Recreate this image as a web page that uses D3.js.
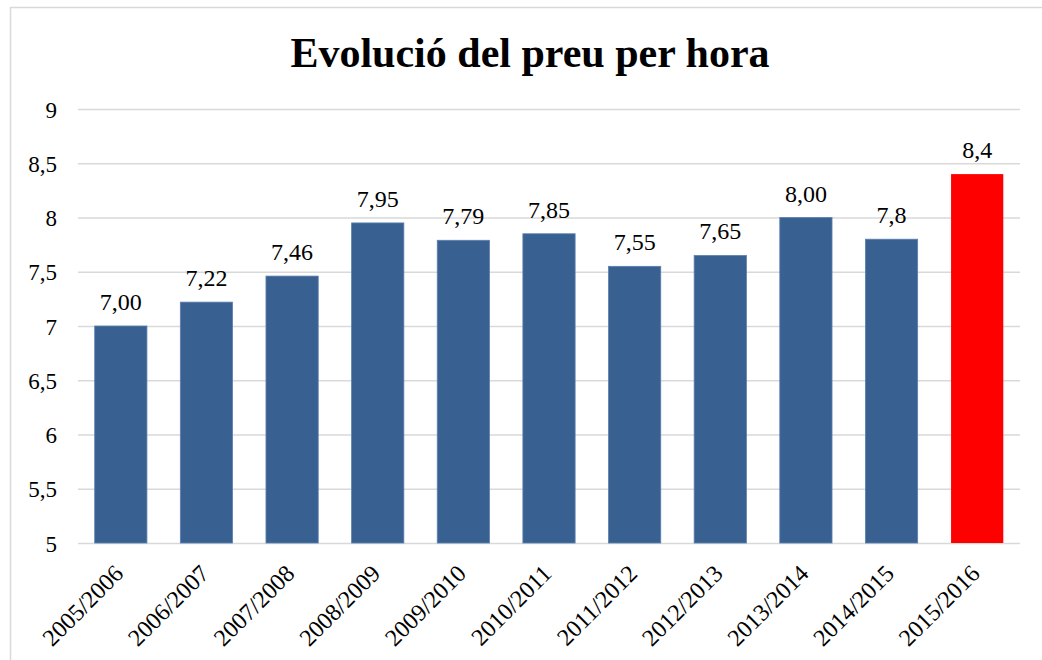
<!DOCTYPE html>
<html>
<head>
<meta charset="utf-8">
<script src="https://cdn.jsdelivr.net/npm/d3@7"></script>
<style>
  body { margin: 0; background: #fff; }
  svg text { font-family: "Liberation Serif", "Times New Roman", serif; fill: #000; }
</style>
</head>
<body>
<div id="chart"></div>
<script>
"use strict"

// chart data
let seasons = ["2005/2006", "2006/2007", "2007/2008", "2008/2009", "2009/2010", "2010/2011",
               "2011/2012", "2012/2013", "2013/2014", "2014/2015", "2015/2016"];
let prices = [7.00, 7.22, 7.46, 7.95, 7.79, 7.85, 7.55, 7.65, 8.00, 7.8, 8.4];
let priceLabels = ["7,00", "7,22", "7,46", "7,95", "7,79", "7,85", "7,55", "7,65", "8,00", "7,8", "8,4"];
let yTicks = [5, 5.5, 6, 6.5, 7, 7.5, 8, 8.5, 9];

let totalWidth = 1042, totalHeight = 660;
let margin = { left: 78, right: 22, top: 109, bottom: 117 };
let width = totalWidth - margin.left - margin.right;
let height = totalHeight - margin.top - margin.bottom;

let svg = d3.select("#chart").append("svg")
    .attr("width", totalWidth)
    .attr("height", totalHeight);

// outer frame (right and bottom edges fall outside the picture)
svg.append("rect")
    .attr("x", 10.5).attr("y", 7.5)
    .attr("width", 1040).attr("height", 660)
    .attr("fill", "none")
    .attr("stroke", "#d9d9d9")
    .attr("stroke-width", 1.5);

svg.append("text")
    .attr("x", 530)
    .attr("y", 67)
    .attr("text-anchor", "middle")
    .style("font-size", "42px")
    .style("font-weight", "bold")
    .text("Evolució del preu per hora");

let g = svg.append("g").attr("transform", `translate(${margin.left},${margin.top})`);

let xScale = d3.scaleBand().domain(seasons).range([0, width]).paddingInner(0.39).paddingOuter(0.195);
let yScale = d3.scaleLinear().domain([5, 9]).range([height, 0]);

// gridlines
g.append("g")
    .attr("class", "grid")
    .call(d3.axisLeft(yScale).tickValues(yTicks).tickSize(-width).tickFormat(""))
    .call(s => s.select(".domain").remove())
    .call(s => s.selectAll("line").attr("stroke", "#d9d9d9").attr("stroke-width", 1.5));

// y labels
g.append("g")
    .call(d3.axisLeft(yScale).tickValues(yTicks).tickSize(0).tickPadding(21)
        .tickFormat(d => String(d).replace(".", ",")))
    .call(s => s.select(".domain").remove())
    .call(s => s.selectAll("text").style("font-size", "23px").attr("dy", "0.35em"));

g.selectAll(".bar")
    .data(prices)
    .enter().append("rect")
        .attr("class", "bar")
        .attr("x", (d, i) => xScale(seasons[i]))
        .attr("y", d => yScale(d))
        .attr("width", xScale.bandwidth())
        .attr("height", d => yScale(5) - yScale(d))
        .attr("fill", (d, i) => i == prices.length - 1 ? "#ff0000" : "#386192")
        .attr("stroke", (d, i) => i == prices.length - 1 ? "none" : "#5b7fae")
        .attr("stroke-width", 0.8);

g.selectAll(".valueLabel")
    .data(prices)
    .enter().append("text")
        .attr("class", "valueLabel")
        .attr("x", (d, i) => xScale(seasons[i]) + xScale.bandwidth() / 2)
        .attr("y", d => yScale(d) - 16)
        .attr("text-anchor", "middle")
        .style("font-size", "24px")
        .text((d, i) => priceLabels[i]);

// x labels
let xAxis = g.append("g")
    .attr("transform", `translate(0,${height})`)
    .call(d3.axisBottom(xScale).tickSize(0).tickPadding(0))
    .call(s => s.select(".domain").remove());
xAxis.selectAll("text")
    .style("font-size", "24px")
    .attr("text-anchor", "end")
    .attr("dy", null)
    .attr("y", 0)
    .attr("transform", "translate(4,32) rotate(-45)");
</script>
</body>
</html>
